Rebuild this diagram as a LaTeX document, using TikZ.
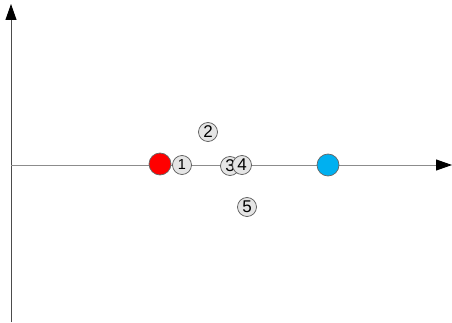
\documentclass[tikz,border=0pt]{standalone}
\usepackage{fontspec}
\setmainfont{Liberation Sans}
\usetikzlibrary{arrows.meta}

\begin{document}
\begin{tikzpicture}[x=1pt,y=-1pt,
    axis/.style={line width=0.9pt,-{Triangle[length=16pt,width=11pt,color=black]}},
    num/.style={circle,draw=black!65,fill=black!10,inner sep=0pt,minimum size=19pt,line width=0.7pt,font=\fontsize{17}{17}\selectfont},
    dot/.style={circle,draw=black!60,inner sep=0pt,minimum size=22pt,line width=0.7pt}]
    \useasboundingbox (0,0) rectangle (452,323);
    \coordinate (ybot) at (11,322);
    \coordinate (ytop) at (11,4);
    \coordinate (o) at (11,165);
    \coordinate (xend) at (452,165);
    \draw[axis,black!70] (ybot)--(ytop);
    \draw[axis,black!45] (o)--(xend);
    \node[dot,fill=red] (red) at (160,164) {};
    \node[dot,fill={rgb,255:red,0;green,176;blue,240}] (blue) at (328,165) {};
    \node[num,font=\fontsize{14.5}{14.5}\selectfont] (n1) at (182,165) {1};
    \node[num] (n2) at (208,132) {2};
    \node[num] (n3) at (230,166) {3};
    \node[num] (n4) at (242,165) {4};
    \node[num] (n5) at (247,207) {5};
\end{tikzpicture}
\end{document}
